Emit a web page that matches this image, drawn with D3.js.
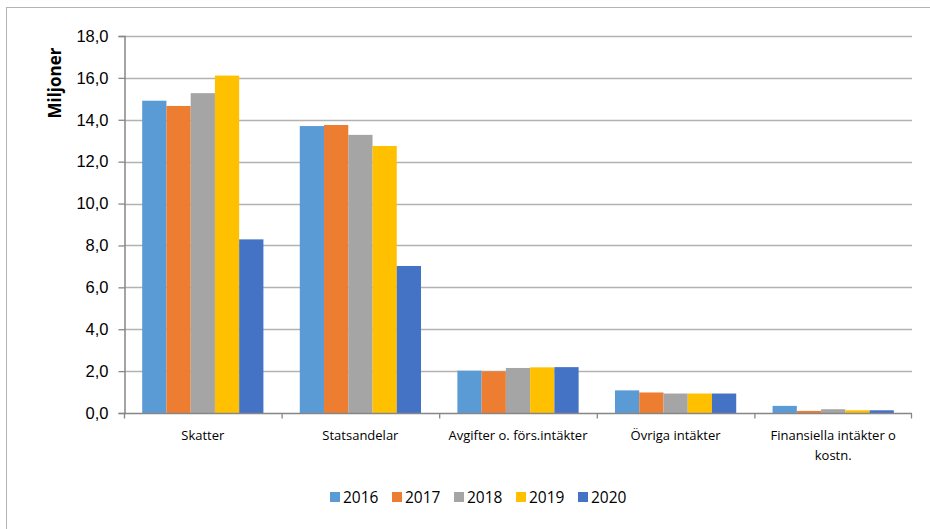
<!DOCTYPE html>
<html>
<head>
<meta charset="utf-8">
<script src="https://cdn.jsdelivr.net/npm/d3@7"></script>
<style>
body { margin: 0; background: #fff; }
svg { display: block; font-family: "Open Sans", "Liberation Sans", sans-serif; }
</style>
</head>
<body>
<script>
var categories = ["Skatter", "Statsandelar", "Avgifter o. förs.intäkter", "Övriga intäkter", "Finansiella intäkter o kostn."];
var years = ["2016", "2017", "2018", "2019", "2020"];
var v2016 = [14.91, 13.70, 2.02, 1.08, 0.34];
var v2017 = [14.66, 13.75, 1.99, 0.98, 0.10];
var v2018 = [15.27, 13.28, 2.15, 0.93, 0.18];
var v2019 = [16.11, 12.75, 2.18, 0.93, 0.13];
var v2020 = [8.29, 7.02, 2.19, 0.93, 0.13];
var yTicks = [0, 2, 4, 6, 8, 10, 12, 14, 16, 18];
var colors = ["#5B9BD5", "#ED7D31", "#A5A5A5", "#FFC000", "#4472C4"];

var series = [v2016, v2017, v2018, v2019, v2020];

var width = 930, height = 529;
var plotLeft = 124, plotRight = 912, plotTop = 36, plotBottom = 413;

var svg = d3.select("body").append("svg")
    .attr("width", width)
    .attr("height", height);

// outer frame
svg.append("rect")
    .attr("x", 6.5)
    .attr("y", 7.5)
    .attr("width", 940)
    .attr("height", 540)
    .attr("fill", "none")
    .attr("stroke", "#b4b4b4")
    .attr("stroke-width", 1);

var x = d3.scaleBand()
    .domain(categories)
    .range([plotLeft, plotRight])
    .paddingInner(0)
    .paddingOuter(0);

var inner = d3.scaleBand()
    .domain(years)
    .range([0, x.bandwidth()])
    .paddingInner(0)
    .paddingOuter(0.75);

var y = d3.scaleLinear()
    .domain([0, 18])
    .range([plotBottom, plotTop]);

// gridlines
svg.append("g")
    .selectAll("line")
    .data(yTicks.filter(function(d) { return d > 0; }))
    .enter()
    .append("line")
    .attr("x1", plotLeft)
    .attr("x2", plotRight)
    .attr("y1", function(d) { return Math.round(y(d)) + 0.5; })
    .attr("y2", function(d) { return Math.round(y(d)) + 0.5; })
    .attr("stroke", "#b2b2b2")
    .attr("stroke-width", 1.3);

// bars
years.forEach(function(yr, i) {
    svg.append("g")
        .selectAll("rect")
        .data(series[i])
        .enter()
        .append("rect")
        .attr("x", function(d, j) { return x(categories[j]) + inner(yr); })
        .attr("y", function(d) { return y(d); })
        .attr("width", inner.bandwidth())
        .attr("height", function(d) { return plotBottom - y(d); })
        .attr("fill", colors[i]);
});

// y axis
var yAxis = svg.append("g")
    .attr("transform", "translate(" + (plotLeft + 0.5) + ",0)")
    .call(d3.axisLeft(y)
        .tickValues(yTicks)
        .tickSize(6)
        .tickPadding(10)
        .tickFormat(function(d) { return d3.format(".1f")(d).replace(".", ","); }));
yAxis.select(".domain").attr("stroke", "#868686").attr("stroke-width", 1.5);
yAxis.selectAll(".tick line").attr("stroke", "#868686").attr("stroke-width", 1.3);
yAxis.selectAll(".tick text")
    .attr("font-size", "16.5px")
    .attr("fill", "#000");

// x axis
var xAxis = svg.append("g")
    .attr("transform", "translate(0," + (plotBottom + 0.5) + ")");
xAxis.append("line")
    .attr("x1", plotLeft)
    .attr("x2", plotRight)
    .attr("stroke", "#868686")
    .attr("stroke-width", 1.5);
xAxis.selectAll(".xt")
    .data(categories.concat(["end"]))
    .enter()
    .append("line")
    .attr("class", "xt")
    .attr("x1", function(d, i) { return i < categories.length ? x(d) + 0.5 : plotRight - 0.5; })
    .attr("x2", function(d, i) { return i < categories.length ? x(d) + 0.5 : plotRight - 0.5; })
    .attr("y1", 0)
    .attr("y2", 5)
    .attr("stroke", "#868686")
    .attr("stroke-width", 1.3);

var wrapAt = { "Finansiella intäkter o kostn.": ["Finansiella intäkter o", "kostn."] };
categories.forEach(function(c) {
    var lines = wrapAt[c] || [c];
    var t = svg.append("text")
        .attr("x", x(c) + x.bandwidth() / 2)
        .attr("y", 440)
        .attr("text-anchor", "middle")
        .attr("font-size", "13px")
        .attr("fill", "#000");
    lines.forEach(function(l, k) {
        t.append("tspan")
            .attr("x", x(c) + x.bandwidth() / 2)
            .attr("dy", k === 0 ? 0 : 20)
            .text(l);
    });
});

// y label
svg.append("text")
    .attr("transform", "translate(61,83) rotate(-90)")
    .attr("text-anchor", "middle")
    .attr("font-size", "17px")
    .attr("font-weight", "bold")
    .attr("fill", "#000")
    .text("Miljoner");

// legend
var legend = svg.append("g")
    .selectAll("g")
    .data(years)
    .enter()
    .append("g")
    .attr("transform", function(d, i) { return "translate(" + (330 + i * 62) + ",492)"; });
legend.append("rect")
    .attr("width", 10)
    .attr("height", 10)
    .attr("fill", function(d, i) { return colors[i]; });
legend.append("text")
    .attr("x", 13)
    .attr("y", 10.5)
    .attr("font-size", "15.5px")
    .attr("fill", "#000")
    .text(function(d) { return d; });
</script>
</body>
</html>
